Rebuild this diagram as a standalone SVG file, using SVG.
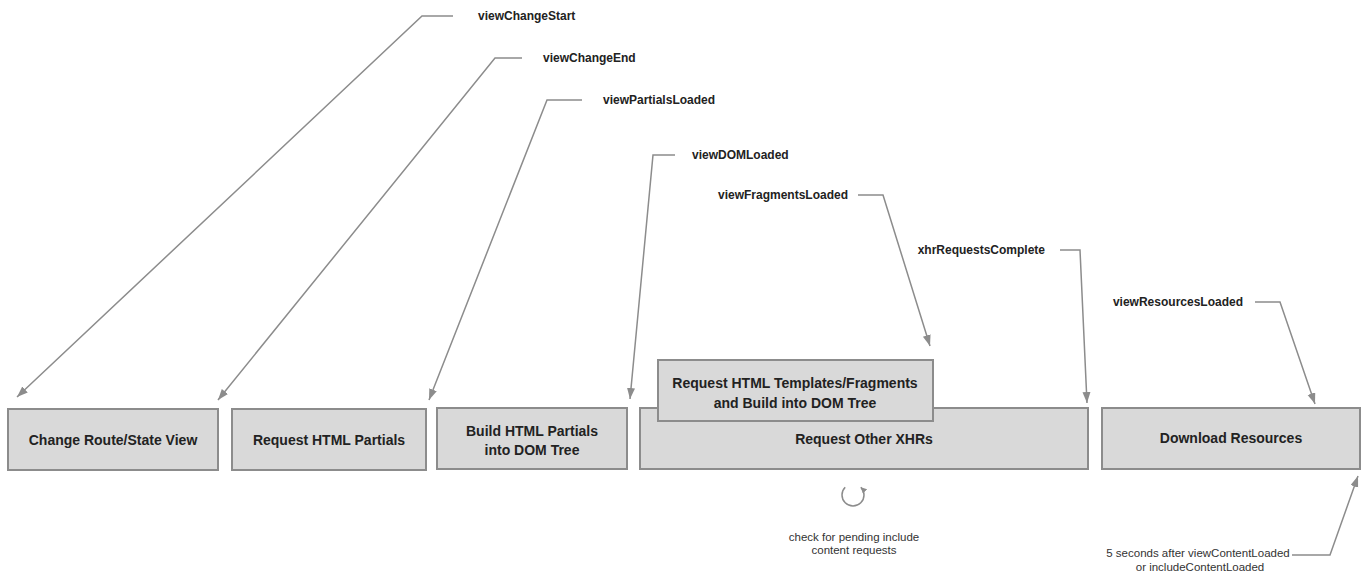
<svg xmlns="http://www.w3.org/2000/svg" width="1362" height="575" viewBox="0 0 1362 575">
<style>
.box{fill:#d9d9d9;stroke:#8c8c8c;stroke-width:2}
.bt{font-family:"Liberation Sans",Arial,sans-serif;font-weight:bold;font-size:14px;fill:#222;text-anchor:middle}
.lb{font-family:"Liberation Sans",Arial,sans-serif;font-weight:bold;font-size:12px;fill:#222}
.nt{font-family:"Liberation Sans",Arial,sans-serif;font-size:11.5px;fill:#333;text-anchor:middle}
.ln{fill:none;stroke:#8c8c8c;stroke-width:1.5;marker-end:url(#ah)}
</style>
<defs>
<marker id="ah" markerUnits="userSpaceOnUse" markerWidth="12" markerHeight="10" refX="11" refY="4" orient="auto">
<path d="M0,0 L11,4 L0,8 Z" fill="#8c8c8c"/>
</marker>
<marker id="ah2" markerUnits="userSpaceOnUse" markerWidth="8" markerHeight="8" refX="6" refY="3" orient="auto">
<path d="M0,0 L6,3 L0,6 Z" fill="#8c8c8c"/>
</marker>
</defs>
<rect width="1362" height="575" fill="#fff"/>
<g id="connectors">
<path class="ln" d="M453,16 H422 L17,397"/>
<path class="ln" d="M522,58 H495 L218,400"/>
<path class="ln" d="M582,100 H547 L429,400"/>
<path class="ln" d="M675,155 H653 L630,399"/>
<path class="ln" d="M858,195 H883 L930,346"/>
<path class="ln" d="M1060,250 H1080 L1087,403"/>
<path class="ln" d="M1255,302 H1280 L1315,404"/>
<path class="ln" d="M1292,555 H1330 L1358,476"/>
<path d="M845.2,487.2 A11,11 0 1 0 860.8,487.2" fill="none" stroke="#8c8c8c" stroke-width="1.5" marker-end="url(#ah2)"/>
</g>
<g id="labels">
<text class="lb" x="478" y="20">viewChangeStart</text>
<text class="lb" x="543" y="62">viewChangeEnd</text>
<text class="lb" x="603" y="104">viewPartialsLoaded</text>
<text class="lb" x="692" y="159">viewDOMLoaded</text>
<text class="lb" x="848" y="199" text-anchor="end">viewFragmentsLoaded</text>
<text class="lb" x="1045" y="254" text-anchor="end">xhrRequestsComplete</text>
<text class="lb" x="1243" y="306" text-anchor="end">viewResourcesLoaded</text>
</g>
<g id="node-change-route">
<rect class="box" x="8" y="409" width="210" height="61"/>
<text class="bt" x="113" y="445">Change Route/State View</text>
</g>
<g id="node-request-partials">
<rect class="box" x="232" y="409" width="194" height="61"/>
<text class="bt" x="329" y="445">Request HTML Partials</text>
</g>
<g id="node-build-partials">
<rect class="box" x="437" y="408" width="190" height="61"/>
<text class="bt" x="532" y="436">Build HTML Partials</text>
<text class="bt" x="532" y="455">into DOM Tree</text>
</g>
<g id="node-other-xhrs">
<rect class="box" x="640" y="408" width="448" height="61"/>
<text class="bt" x="864" y="444">Request Other XHRs</text>
</g>
<g id="node-templates">
<rect class="box" x="658" y="360" width="275" height="61"/>
<text class="bt" x="795" y="388">Request HTML Templates/Fragments</text>
<text class="bt" x="795" y="408">and Build into DOM Tree</text>
</g>
<g id="node-download">
<rect class="box" x="1102" y="408" width="258" height="61"/>
<text class="bt" x="1231" y="443">Download Resources</text>
</g>
<g id="notes">
<text class="nt" x="854" y="541">check for pending include</text>
<text class="nt" x="854" y="554">content requests</text>
<text class="nt" x="1198" y="557">5 seconds after viewContentLoaded</text>
<text class="nt" x="1200" y="571">or includeContentLoaded</text>
</g>
</svg>
